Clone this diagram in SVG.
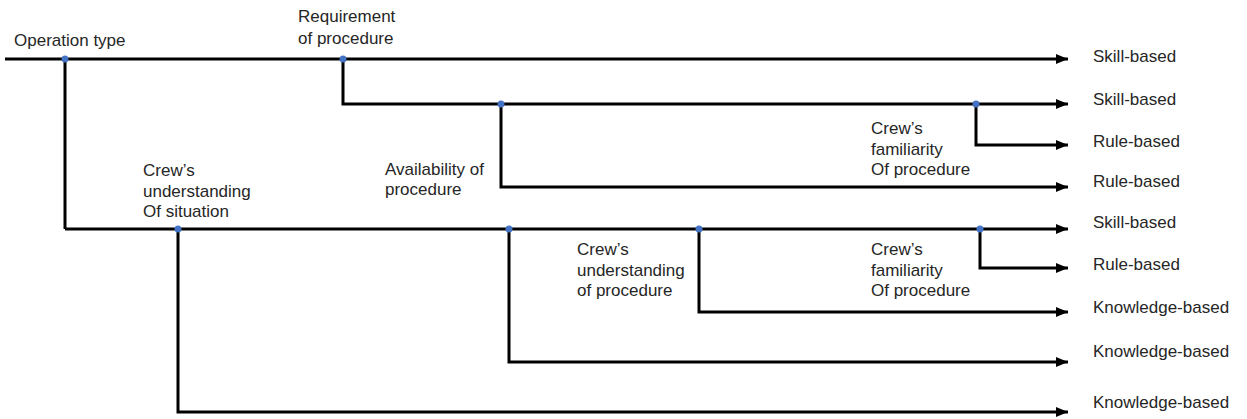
<svg xmlns="http://www.w3.org/2000/svg" width="1247" height="419" viewBox="0 0 1247 419">
<style>
text{font-family:"Liberation Sans",Arial,sans-serif;font-size:17px;fill:#262626}
.c{fill:none;stroke:#000;stroke-width:3}
.a{marker-end:url(#arr)}
.d{fill:#4472C4}
</style>
<defs>
<marker id="arr" markerUnits="userSpaceOnUse" markerWidth="12" markerHeight="10" refX="12" refY="5" orient="auto">
<path d="M0,0 L12,5 L0,10 Z" fill="#000"/>
</marker>
</defs>
<rect width="1247" height="419" fill="#fff"/>
<g id="connectors">
<path class="c a" d="M5,59 H1068"/>
<path class="c" d="M65,59 V229"/>
<path class="c a" d="M343,59 V104 H1068"/>
<path class="c a" d="M501,104 V187 H1068"/>
<path class="c a" d="M976,104 V145 H1068"/>
<path class="c a" d="M65,229 H1068"/>
<path class="c a" d="M980,229 V268 H1068"/>
<path class="c a" d="M699,229 V312 H1068"/>
<path class="c a" d="M509,229 V362 H1068"/>
<path class="c a" d="M178,229 V412 H1068"/>
</g>
<g id="junctions">
<circle class="d" cx="65" cy="59" r="3.5"/>
<circle class="d" cx="343" cy="59" r="3.5"/>
<circle class="d" cx="501" cy="104" r="3.5"/>
<circle class="d" cx="976" cy="104" r="3.5"/>
<circle class="d" cx="178" cy="229" r="3.5"/>
<circle class="d" cx="509" cy="229" r="3.5"/>
<circle class="d" cx="699" cy="229" r="3.5"/>
<circle class="d" cx="980" cy="229" r="3.5"/>
</g>
<g id="operation-type"><text x="14" y="46">Operation type</text></g>
<g id="requirement"><text x="298" y="22">Requirement</text><text x="298" y="44">of procedure</text></g>
<g id="availability"><text x="385" y="175">Availability of</text><text x="385" y="195">procedure</text></g>
<g id="familiarity-1"><text x="871" y="134">Crew’s</text><text x="871" y="155">familiarity</text><text x="871" y="175">Of procedure</text></g>
<g id="situation"><text x="143" y="176">Crew’s</text><text x="143" y="197">understanding</text><text x="143" y="217">Of situation</text></g>
<g id="understanding-proc"><text x="577" y="255">Crew’s</text><text x="577" y="276">understanding</text><text x="577" y="296">of procedure</text></g>
<g id="familiarity-2"><text x="871" y="255">Crew’s</text><text x="871" y="276">familiarity</text><text x="871" y="296">Of procedure</text></g>
<g id="outcomes">
<text x="1093" y="62">Skill-based</text>
<text x="1093" y="105">Skill-based</text>
<text x="1093" y="147">Rule-based</text>
<text x="1093" y="187">Rule-based</text>
<text x="1093" y="228">Skill-based</text>
<text x="1093" y="270">Rule-based</text>
<text x="1093" y="313">Knowledge-based</text>
<text x="1093" y="357">Knowledge-based</text>
<text x="1093" y="408">Knowledge-based</text>
</g>
</svg>
